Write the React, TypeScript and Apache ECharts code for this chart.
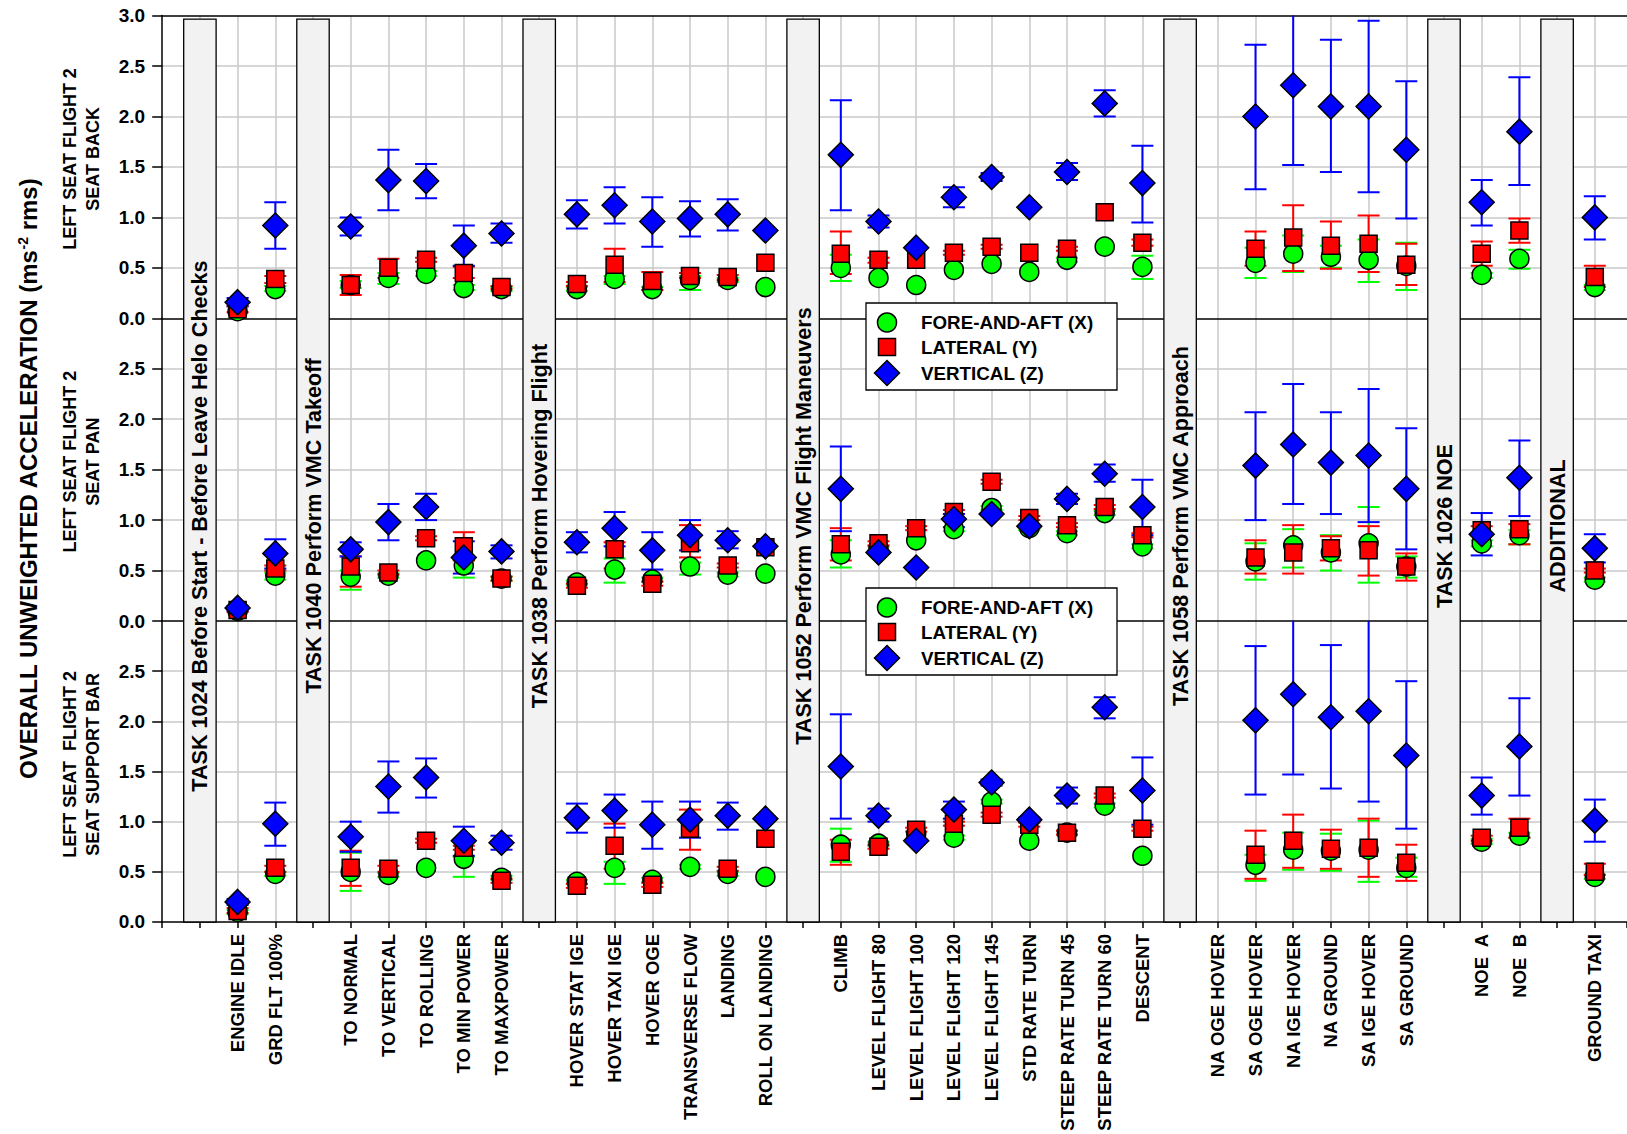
import React, { useEffect, useRef } from "react";
import * as echarts from "echarts";

// ---------------- DATA ----------------
const TASK_TITLES = [
  "TASK 1024 Before Start - Before Leave Helo Checks",
  "TASK 1040 Perform VMC Takeoff",
  "TASK 1038 Perform Hovering Flight",
  "TASK 1052 Perform VMC Flight Maneuvers",
  "TASK 1058 Perform VMC Approach",
  "TASK 1026 NOE",
  "ADDITIONAL",
];

const TASK_ITEMS = [
  ["ENGINE IDLE", "GRD FLT 100%"],
  ["TO NORMAL", "TO VERTICAL", "TO ROLLING", "TO MIN POWER", "TO MAXPOWER"],
  ["HOVER STAT IGE", "HOVER TAXI IGE", "HOVER OGE", "TRANSVERSE FLOW", "LANDING", "ROLL ON LANDING"],
  ["CLIMB", "LEVEL FLIGHT 80", "LEVEL FLIGHT 100", "LEVEL FLIGHT 120", "LEVEL FLIGHT 145", "STD RATE TURN", "STEEP RATE TURN 45", "STEEP RATE TURN 60", "DESCENT"],
  ["NA OGE HOVER", "SA OGE HOVER", "NA IGE HOVER", "NA GROUND", "SA IGE HOVER", "SA GROUND"],
  ["NOE  A", "NOE  B"],
  ["GROUND TAXI"],
];

const PANEL_LABELS = [
  "LEFT SEAT FLIGHT 2\nSEAT BACK",
  "LEFT SEAT FLIGHT 2\nSEAT PAN",
  "LEFT SEAT  FLIGHT 2\nSEAT SUPPORT BAR",
];

const SERIES_NAMES = ["FORE-AND-AFT (X)", "LATERAL (Y)", "VERTICAL (Z)"];
const Y_TITLE = "OVERALL UNWEIGHTED ACCELERATION (ms{sup|-2} rms)";

const n = null;

// Panel 1: seat back
const BACK_X = [0.07, 0.29, 0.33, 0.40, 0.44, 0.30, 0.29, 0.29, 0.39, 0.29, 0.38, 0.38, 0.31, 0.50, 0.40, 0.33, 0.48, 0.54, 0.46, 0.58, 0.71, 0.51, n, 0.55, 0.64, 0.61, 0.58, 0.52, 0.43, 0.59, 0.31];
const BACK_X_LO = [n, 0.27, 0.30, 0.34, 0.42, 0.28, 0.27, 0.27, 0.34, 0.28, 0.28, 0.36, n, 0.37, n, n, n, n, n, 0.56, n, 0.39, n, 0.40, 0.46, 0.50, 0.36, 0.28, 0.40, 0.49, 0.28];
const BACK_X_HI = [n, 0.32, 0.37, 0.45, 0.47, 0.33, 0.31, 0.31, 0.42, 0.31, 0.42, 0.40, n, 0.63, n, n, n, n, n, 0.60, n, 0.62, n, 0.70, 0.82, 0.72, 0.78, 0.75, 0.45, 0.68, 0.33];
const BACK_Y = [0.09, 0.39, 0.33, 0.50, 0.58, 0.45, 0.31, 0.34, 0.53, 0.37, 0.42, 0.41, 0.55, 0.64, 0.58, 0.58, 0.65, 0.71, 0.65, 0.69, 1.05, 0.75, n, 0.69, 0.80, 0.72, 0.74, 0.53, 0.64, 0.87, 0.41];
const BACK_Y_LO = [0.06, 0.35, 0.23, 0.40, 0.56, 0.40, 0.29, 0.32, 0.36, 0.28, 0.40, 0.38, n, 0.44, 0.55, n, 0.63, 0.69, n, 0.67, n, 0.72, n, 0.52, 0.47, 0.49, 0.46, 0.33, 0.52, 0.75, 0.31];
const BACK_Y_HI = [0.12, 0.42, 0.43, 0.59, 0.60, 0.51, 0.32, 0.36, 0.69, 0.46, 0.45, 0.43, n, 0.86, 0.60, n, 0.67, 0.73, n, 0.71, n, 0.78, n, 0.86, 1.12, 0.96, 1.02, 0.74, 0.76, 0.99, 0.52];
const BACK_Z = [0.16, 0.92, 0.91, 1.37, 1.36, 0.72, 0.84, 1.03, 1.12, 0.96, 0.99, 1.03, 0.87, 1.62, 0.96, 0.70, 1.20, 1.40, 1.10, 1.45, 2.13, 1.34, n, 2.00, 2.31, 2.10, 2.10, 1.67, 1.15, 1.85, 1.00];
const BACK_Z_LO = [0.12, 0.69, 0.82, 1.07, 1.19, 0.52, 0.75, 0.89, 0.94, 0.71, 0.81, 0.87, n, 1.07, 0.90, n, 1.10, 1.36, n, 1.37, 2.00, 0.95, n, 1.28, 1.52, 1.45, 1.25, 0.99, 0.92, 1.32, 0.78];
const BACK_Z_HI = [0.20, 1.15, 1.00, 1.67, 1.53, 0.92, 0.94, 1.17, 1.30, 1.20, 1.16, 1.18, n, 2.16, 1.02, n, 1.30, 1.44, n, 1.54, 2.26, 1.71, n, 2.71, 3.10, 2.76, 2.95, 2.35, 1.37, 2.39, 1.21];

// Panel 2: seat pan
const PAN_X = [0.10, 0.45, 0.44, 0.45, 0.60, 0.55, 0.42, 0.38, 0.51, 0.41, 0.54, 0.46, 0.47, 0.66, 0.72, 0.80, 0.91, 1.12, 0.92, 0.87, 1.07, 0.74, n, 0.59, 0.75, 0.68, 0.77, 0.54, 0.77, 0.85, 0.41];
const PAN_X_LO = [n, 0.41, 0.31, 0.43, n, 0.43, 0.40, 0.36, 0.38, 0.39, 0.46, 0.44, n, 0.53, 0.70, n, 0.89, 1.10, 0.90, 0.85, 1.05, 0.72, n, 0.41, 0.53, 0.50, 0.38, 0.43, 0.74, 0.76, 0.39];
const PAN_X_HI = [n, 0.48, 0.50, 0.47, n, 0.60, 0.44, 0.40, 0.62, 0.43, 0.58, 0.48, n, 0.80, 0.74, n, 0.93, 1.14, 0.94, 0.89, 1.09, 0.76, n, 0.77, 0.91, 0.85, 1.13, 0.64, 0.80, 0.90, 0.43];
const PAN_Y = [0.11, 0.52, 0.54, 0.48, 0.82, 0.74, 0.42, 0.35, 0.71, 0.37, 0.77, 0.55, 0.73, 0.76, 0.77, 0.92, 1.08, 1.38, 1.02, 0.95, 1.13, 0.85, n, 0.63, 0.68, 0.72, 0.70, 0.54, 0.90, 0.91, 0.50];
const PAN_Y_LO = [0.09, 0.50, 0.34, 0.46, 0.80, 0.60, 0.40, 0.33, 0.52, 0.35, 0.63, 0.53, n, 0.60, 0.75, 0.90, 1.06, 1.36, 1.00, 0.93, 1.11, 0.83, n, 0.47, 0.47, 0.60, 0.45, 0.40, 0.86, 0.76, 0.48];
const PAN_Y_HI = [0.13, 0.55, 0.64, 0.50, 0.84, 0.88, 0.44, 0.37, 0.78, 0.39, 0.95, 0.57, n, 0.92, 0.79, 0.94, 1.10, 1.40, 1.04, 0.97, 1.15, 0.87, n, 0.80, 0.95, 0.84, 0.94, 0.67, 0.94, 0.96, 0.52];
const PAN_Z = [0.13, 0.67, 0.71, 0.98, 1.13, 0.63, 0.69, 0.78, 0.92, 0.70, 0.85, 0.80, 0.74, 1.31, 0.68, 0.53, 1.01, 1.06, 0.94, 1.21, 1.46, 1.13, n, 1.54, 1.75, 1.57, 1.64, 1.31, 0.86, 1.42, 0.72];
const PAN_Z_LO = [0.10, 0.52, 0.64, 0.80, 1.00, 0.47, 0.62, 0.68, 0.74, 0.51, 0.70, 0.72, n, 0.89, n, n, 0.93, n, n, 1.16, 1.38, 0.85, n, 1.00, 1.16, 1.06, 0.98, 0.71, 0.65, 1.04, 0.58];
const PAN_Z_HI = [0.15, 0.81, 0.78, 1.16, 1.26, 0.79, 0.75, 0.88, 1.08, 0.88, 1.00, 0.89, n, 1.73, n, n, 1.06, n, n, 1.26, 1.55, 1.40, n, 2.07, 2.35, 2.07, 2.30, 1.91, 1.07, 1.79, 0.86];

// Panel 3: seat support bar
const BAR_X = [0.10, 0.48, 0.50, 0.47, 0.54, 0.63, 0.44, 0.40, 0.54, 0.42, 0.55, 0.48, 0.45, 0.77, 0.78, 0.88, 0.84, 1.20, 0.81, 0.89, 1.16, 0.66, n, 0.57, 0.72, 0.71, 0.72, 0.54, 0.80, 0.86, 0.45];
const BAR_X_LO = [0.08, 0.46, 0.31, 0.45, n, 0.45, 0.42, 0.38, 0.38, 0.40, 0.53, 0.46, n, 0.60, 0.76, n, 0.82, 1.18, n, 0.87, 1.14, n, n, 0.41, 0.52, 0.51, 0.40, 0.45, 0.78, 0.84, 0.43];
const BAR_X_HI = [0.12, 0.50, 0.69, 0.49, n, 0.65, 0.46, 0.42, 0.60, 0.44, 0.57, 0.50, n, 0.93, 0.80, n, 0.86, 1.22, n, 0.91, 1.18, n, n, 0.67, 0.89, 0.88, 1.01, 0.64, 0.83, 0.89, 0.47];
const BAR_Y = [0.11, 0.54, 0.54, 0.53, 0.81, 0.74, 0.41, 0.36, 0.76, 0.37, 0.93, 0.53, 0.83, 0.70, 0.75, 0.92, 0.98, 1.07, 0.97, 0.89, 1.26, 0.93, n, 0.67, 0.81, 0.73, 0.74, 0.59, 0.84, 0.94, 0.50];
const BAR_Y_LO = [0.09, 0.50, 0.36, 0.50, 0.79, 0.72, 0.39, 0.34, 0.53, 0.35, 0.72, 0.51, n, 0.57, 0.73, 0.90, 0.96, 1.05, 0.95, 0.87, 1.24, 0.91, n, 0.43, 0.54, 0.53, 0.45, 0.41, 0.81, 0.84, 0.47];
const BAR_Y_HI = [0.14, 0.56, 0.71, 0.56, 0.83, 0.76, 0.43, 0.38, 0.98, 0.39, 1.12, 0.55, n, 0.82, 0.77, 0.94, 1.00, 1.09, 0.99, 0.91, 1.28, 0.95, n, 0.91, 1.07, 0.92, 1.03, 0.77, 0.86, 1.03, 0.58];
const BAR_Z = [0.20, 0.98, 0.85, 1.35, 1.44, 0.81, 0.79, 1.04, 1.11, 0.97, 1.02, 1.06, 1.03, 1.55, 1.06, 0.81, 1.12, 1.39, 1.02, 1.26, 2.14, 1.31, n, 2.01, 2.27, 2.04, 2.10, 1.66, 1.26, 1.75, 1.01];
const BAR_Z_LO = [0.17, 0.76, 0.70, 1.09, 1.24, 0.66, 0.72, 0.89, 0.94, 0.73, 0.84, 0.92, n, 1.03, 1.00, n, 1.03, 1.36, 1.00, 1.18, 2.03, 0.97, n, 1.27, 1.47, 1.33, 1.20, 0.93, 1.07, 1.26, 0.80];
const BAR_Z_HI = [0.23, 1.19, 1.00, 1.60, 1.63, 0.95, 0.86, 1.18, 1.27, 1.20, 1.20, 1.19, n, 2.07, 1.13, n, 1.20, 1.42, 1.04, 1.34, 2.24, 1.64, n, 2.75, 3.10, 2.76, 3.10, 2.40, 1.44, 2.23, 1.22];

// ---------------- LAYOUT / STYLE ----------------
const W = 1627;
const H = 1134;
const LEFT = 162.2;
const SLOT_PX = 37.7;
const XMAX = (W - LEFT) / SLOT_PX;
const TOP = 15.6;
const PANEL_H = 302.7;
const YMAX = 3;
const FONT_FAMILY = "'Liberation Sans', Arial, Helvetica, sans-serif";
const boldFont = (size: number) => `bold ${size}px ${FONT_FAMILY}`;
const GRID_GRAY = "#c8c8c8";
const BAND_HALF = 0.43;
const BAND_TEXT_Y = 526;
const CAP_HALF = 11;
const TOP_Z = 50;

const COLORS = ["#00ff00", "#ff0000", "#0000ff"];
const SYMBOLS = ["circle", "rect", "diamond"];
const SYMBOL_SIZES = [19, 17, 25];

const PANELS = [
  { label: PANEL_LABELS[0], v: [BACK_X, BACK_Y, BACK_Z], lo: [BACK_X_LO, BACK_Y_LO, BACK_Z_LO], hi: [BACK_X_HI, BACK_Y_HI, BACK_Z_HI] },
  { label: PANEL_LABELS[1], v: [PAN_X, PAN_Y, PAN_Z], lo: [PAN_X_LO, PAN_Y_LO, PAN_Z_LO], hi: [PAN_X_HI, PAN_Y_HI, PAN_Z_HI] },
  { label: PANEL_LABELS[2], v: [BAR_X, BAR_Y, BAR_Z], lo: [BAR_X_LO, BAR_Y_LO, BAR_Z_LO], hi: [BAR_X_HI, BAR_Y_HI, BAR_Z_HI] },
];

// slots: each task band takes one slot, followed by its items
const BAND_SLOTS: number[] = [];
const CAT_SLOTS: number[] = [];
const LABEL_BY_SLOT: Record<number, string> = {};
(() => {
  let s = 0;
  TASK_ITEMS.forEach((items) => {
    s += 1;
    BAND_SLOTS.push(s);
    items.forEach((name) => {
      s += 1;
      CAT_SLOTS.push(s);
      LABEL_BY_SLOT[s] = name;
    });
  });
})();

function errRender(color: string) {
  return (params: any, api: any) => {
    const x = api.value(0);
    const pLo = api.coord([x, api.value(1)]);
    const pHi = api.coord([x, api.value(2)]);
    const style = { stroke: color, lineWidth: 2 };
    return {
      type: "group",
      children: [
        { type: "line", shape: { x1: pLo[0], y1: pLo[1], x2: pHi[0], y2: pHi[1] }, style },
        { type: "line", shape: { x1: pLo[0] - CAP_HALF, y1: pLo[1], x2: pLo[0] + CAP_HALF, y2: pLo[1] }, style },
        { type: "line", shape: { x1: pHi[0] - CAP_HALF, y1: pHi[1], x2: pHi[0] + CAP_HALF, y2: pHi[1] }, style },
      ],
    };
  };
}

function buildOption() {
  const grid = [0, 1, 2].map((i) => ({
    left: LEFT,
    top: TOP + i * PANEL_H,
    width: W - LEFT,
    height: PANEL_H,
    containLabel: false,
  }));

  const blackLine = { color: "#000", width: 1.5 };

  const xAxis: any[] = [0, 1, 2].map((i) => ({
    gridIndex: i,
    type: "value",
    min: 0,
    max: XMAX,
    interval: 1,
    z: 1,
    axisLine: { show: true, onZero: false, lineStyle: blackLine },
    axisTick: { show: i === 2, length: 6, lineStyle: blackLine },
    axisLabel:
      i === 2
        ? {
            show: true,
            rotate: 90,
            margin: 12,
            fontSize: 18.5,
            fontWeight: "bold",
            fontFamily: FONT_FAMILY,
            color: "#000",
            formatter: (v: number) =>
              LABEL_BY_SLOT[Math.round(v)] && Math.abs(v - Math.round(v)) < 1e-6 ? LABEL_BY_SLOT[Math.round(v)] : "",
          }
        : { show: false },
    splitLine: { show: true, showMinLine: false, showMaxLine: false, lineStyle: { color: GRID_GRAY, width: 1.5 } },
  }));
  xAxis.push({
    gridIndex: 0,
    type: "value",
    position: "top",
    min: 0,
    max: XMAX,
    z: 1,
    axisLine: { show: true, onZero: false, lineStyle: blackLine },
    axisTick: { show: false },
    axisLabel: { show: false },
    splitLine: { show: false },
  });

  const yAxis = [0, 1, 2].map((i) => ({
    gridIndex: i,
    type: "value",
    min: 0,
    max: YMAX,
    interval: 0.5,
    z: 1,
    axisLine: { show: true, onZero: false, lineStyle: blackLine },
    axisTick: { show: true, length: 10, lineStyle: blackLine },
    axisLabel: {
      show: true,
      margin: 17,
      fontSize: 19,
      fontWeight: "bold",
      fontFamily: FONT_FAMILY,
      color: "#000",
      showMaxLabel: i === 0,
      formatter: (v: number) => v.toFixed(1),
    },
    splitLine: { show: true, showMinLine: false, showMaxLine: false, lineStyle: { color: GRID_GRAY, width: 1.5 } },
  }));

  const series: any[] = [];

  // task bands spanning all three panels (drawn in the bottom grid's scale)
  series.push({
    type: "custom",
    xAxisIndex: 2,
    yAxisIndex: 2,
    z: 2,
    clip: false,
    silent: true,
    data: BAND_SLOTS.map((s, i) => [s, i]),
    renderItem: (params: any, api: any) => {
      const x = api.value(0);
      const idx = api.value(1);
      const p0 = api.coord([x - BAND_HALF, 0]);
      const p1 = api.coord([x + BAND_HALF, YMAX * 3]);
      const c = api.coord([x, 0]);
      return {
        type: "group",
        children: [
          {
            type: "rect",
            shape: { x: p0[0], y: p1[1], width: p1[0] - p0[0], height: p0[1] - p1[1] },
            style: { fill: "#f2f2f2", stroke: "#000", lineWidth: 1.3 },
          },
          {
            type: "text",
            x: c[0],
            y: BAND_TEXT_Y,
            rotation: Math.PI / 2,
            style: {
              text: TASK_TITLES[idx],
              fill: "#000",
              font: boldFont(21.6),
              align: "center",
              verticalAlign: "middle",
            },
          },
        ],
      };
    },
  });

  PANELS.forEach((panel, p) => {
    [0, 1, 2].forEach((a) => {
      const errData: any[] = [];
      const ptData: any[] = [];
      CAT_SLOTS.forEach((s, k) => {
        const v = panel.v[a][k];
        const lo = panel.lo[a][k];
        const hi = panel.hi[a][k];
        if (v != null) ptData.push([s, v]);
        if (lo != null && hi != null) errData.push([s, lo, hi]);
      });
      series.push({
        type: "custom",
        name: SERIES_NAMES[a],
        xAxisIndex: p,
        yAxisIndex: p,
        z: 3,
        clip: true,
        silent: true,
        data: errData,
        encode: { x: 0, y: [1, 2] },
        renderItem: errRender(COLORS[a]),
      });
      series.push({
        type: "scatter",
        name: SERIES_NAMES[a],
        xAxisIndex: p,
        yAxisIndex: p,
        z: 3,
        symbol: SYMBOLS[a],
        symbolSize: SYMBOL_SIZES[a],
        itemStyle: { color: COLORS[a], borderColor: "#000", borderWidth: 1.5, opacity: 1 },
        data: ptData,
      });
    });
  });

  // left titles
  const graphic: any[] = [
    {
      type: "text",
      x: 28,
      y: 479,
      rotation: Math.PI / 2,
      z: TOP_Z,
      style: {
        text: Y_TITLE,
        fill: "#000",
        font: boldFont(24),
        align: "center",
        verticalAlign: "middle",
        rich: {
          sup: { font: boldFont(14), verticalAlign: "top", fill: "#000" },
        },
      },
    },
  ];
  PANELS.forEach((panel, p) => {
    graphic.push({
      type: "text",
      x: 81,
      y: TOP + p * PANEL_H + PANEL_H / 2 - 8,
      rotation: Math.PI / 2,
      z: TOP_Z,
      style: {
        text: panel.label,
        fill: "#000",
        font: boldFont(18),
        align: "center",
        verticalAlign: "middle",
        lineHeight: 23,
      },
    });
  });

  // two legend boxes (drawn above the plot, opaque)
  const legendTops = [303, 588];
  const rowOffsets = [19.5, 44, 70];
  const markerX = 887;
  legendTops.forEach((top) => {
    graphic.push({
      type: "rect",
      z: TOP_Z,
      shape: { x: 866, y: top, width: 251, height: 87 },
      style: { fill: "#fff", stroke: "#000", lineWidth: 1.3 },
    });
    SERIES_NAMES.forEach((name, a) => {
      const cy = top + rowOffsets[a];
      const st = { fill: COLORS[a], stroke: "#000", lineWidth: 1.5 };
      if (a === 0) {
        graphic.push({ type: "circle", z: TOP_Z + 1, shape: { cx: markerX, cy, r: SYMBOL_SIZES[0] / 2 }, style: st });
      } else if (a === 1) {
        graphic.push({
          type: "rect",
          z: TOP_Z + 1,
          shape: { x: markerX - SYMBOL_SIZES[1] / 2, y: cy - SYMBOL_SIZES[1] / 2, width: SYMBOL_SIZES[1], height: SYMBOL_SIZES[1] },
          style: st,
        });
      } else {
        const h = SYMBOL_SIZES[2] / 2;
        graphic.push({
          type: "polygon",
          z: TOP_Z + 1,
          shape: { points: [[markerX, cy - h], [markerX + h, cy], [markerX, cy + h], [markerX - h, cy]] },
          style: st,
        });
      }
      graphic.push({
        type: "text",
        z: TOP_Z + 1,
        x: 921,
        y: cy,
        style: { text: name, fill: "#000", font: boldFont(18.8), align: "left", verticalAlign: "middle" },
      });
    });
  });

  return {
    animation: false,
    backgroundColor: "#fff",
    textStyle: { fontFamily: FONT_FAMILY },
    grid,
    xAxis,
    yAxis,
    series,
    graphic,
  };
}

export default function App() {
  const ref = useRef<HTMLDivElement>(null);
  useEffect(() => {
    document.body.style.margin = "0";
    document.body.style.overflow = "hidden";
    const chart = echarts.init(ref.current as HTMLDivElement, undefined, { renderer: "svg" });
    chart.setOption(buildOption() as any);
    return () => {
      chart.dispose();
    };
  }, []);
  return (
    <div
      ref={ref}
      style={{ position: "absolute", left: 0, top: 0, width: W + "px", height: H + "px", background: "#fff" }}
    />
  );
}
